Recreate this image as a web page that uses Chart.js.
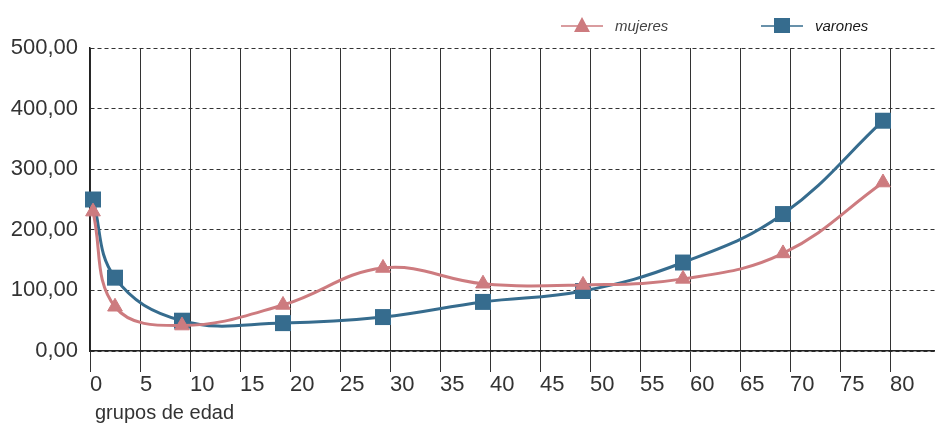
<!DOCTYPE html>
<html>
<head>
<meta charset="utf-8">
<script src="https://cdn.jsdelivr.net/npm/chart.js@4/dist/chart.umd.min.js"></script>
<style>
  html, body { margin: 0; padding: 0; background: #fff; }
  #wrap { width: 935px; height: 423px; position: relative; }
</style>
</head>
<body>
<div id="wrap"><canvas id="c" width="935" height="423"></canvas></div>
<script>
// Age (x) of each plotted group and the rate per group
const ageGroups = [0.3, 2.5, 9.2, 19.3, 29.3, 39.3, 49.3, 59.3, 69.3, 79.3];
const mujeres   = [230, 73, 42, 76, 137, 111, 109, 119, 161, 278];
const varones   = [250, 121, 50, 46, 56, 81, 99, 146, 226, 380];

const xTicks = [0, 5, 10, 15, 20, 25, 30, 35, 40, 45, 50, 55, 60, 65, 70, 75, 80];
const yTicks = [0, 100, 200, 300, 400, 500];

const PINK = '#CD7B7F';
const BLUE = '#366C8E';
const FONT = '"Liberation Sans", Arial, sans-serif';

const toPoints = ys => ys.map((y, i) => ({ x: ageGroups[i], y }));

// Legend: short line with the series marker in the middle, then the label
const lineLegend = {
  id: 'lineLegend',
  afterDraw(chart) {
    const ctx = chart.ctx;
    const items = [
      { text: 'mujeres', color: PINK, shape: 'triangle', x: 561, textColor: '#444' },
      { text: 'varones', color: BLUE, shape: 'square',   x: 761, textColor: '#1a1a1a' }
    ];
    const y = 26;
    ctx.save();
    items.forEach(it => {
      ctx.strokeStyle = it.color;
      ctx.lineWidth = 1.5;
      ctx.beginPath();
      ctx.moveTo(it.x, y);
      ctx.lineTo(it.x + 42, y);
      ctx.stroke();
      ctx.fillStyle = it.color;
      const cx = it.x + 21;
      ctx.beginPath();
      if (it.shape === 'triangle') {
        ctx.moveTo(cx, y - 9);
        ctx.lineTo(cx + 8, y + 6);
        ctx.lineTo(cx - 8, y + 6);
        ctx.closePath();
      } else {
        ctx.rect(cx - 8, y - 8, 16, 15);
      }
      ctx.fill();
      ctx.fillStyle = it.textColor;
      ctx.font = 'italic 15px ' + FONT;
      ctx.textBaseline = 'middle';
      ctx.textAlign = 'left';
      ctx.fillText(it.text, it.x + 54, y + 1);
    });
    ctx.restore();
  }
};

// Axis title drawn under the x tick labels, slightly indented from the y axis
const axisTitle = {
  id: 'axisTitle',
  afterDraw(chart) {
    const ctx = chart.ctx;
    ctx.save();
    ctx.fillStyle = '#333';
    ctx.font = '20px ' + FONT;
    ctx.textAlign = 'left';
    ctx.textBaseline = 'alphabetic';
    ctx.fillText('grupos de edad', chart.chartArea.left + 5, chart.chartArea.bottom + 68);
    ctx.restore();
  }
};

new Chart(document.getElementById('c'), {
  type: 'line',
  data: {
    datasets: [
      {
        label: 'mujeres',
        data: toPoints(mujeres),
        borderColor: PINK,
        backgroundColor: PINK,
        borderWidth: 3,
        pointStyle: 'triangle',
        pointRadius: 8.5,
        pointHoverRadius: 8.5,
        pointBorderWidth: 1,
        pointBorderColor: PINK,
        pointBackgroundColor: PINK,
        tension: 0.4,
        clip: false
      },
      {
        label: 'varones',
        data: toPoints(varones),
        borderColor: BLUE,
        backgroundColor: BLUE,
        borderWidth: 3,
        pointStyle: 'rect',
        pointRadius: 11.3,
        pointHoverRadius: 11.3,
        pointBorderWidth: 0,
        pointBackgroundColor: BLUE,
        tension: 0.4,
        clip: false
      }
    ]
  },
  options: {
    responsive: false,
    animation: false,
    devicePixelRatio: 1,
    layout: { autoPadding: false, padding: { top: 48, right: 0, left: 0, bottom: 0 } },
    plugins: {
      legend: { display: false },
      tooltip: { enabled: false }
    },
    scales: {
      x: {
        type: 'linear',
        min: 0,
        max: 84.5,
        afterBuildTicks: s => { s.ticks = xTicks.map(v => ({ value: v })); },
        afterFit: s => { s.height = 72; s.paddingLeft = 0; s.paddingRight = 0; },
        grid: { color: '#333', lineWidth: 1, drawTicks: true, tickLength: 21, tickColor: '#333', tickWidth: 1 },
        border: { display: true, color: '#222', width: 1.5 },
        ticks: {
          align: 'start',
          padding: 0,
          color: '#333',
          font: { family: FONT, size: 22 },
          callback: v => String(v)
        }
      },
      y: {
        min: 0,
        max: 500,
        afterBuildTicks: s => { s.ticks = yTicks.map(v => ({ value: v })); },
        afterFit: s => { s.width = 90; s.paddingTop = 0; s.paddingBottom = 0; },
        grid: { color: '#333', lineWidth: 1, drawTicks: false },
        border: { display: true, color: '#222', width: 1.5, dash: [4, 3] },
        ticks: {
          padding: 12,
          color: '#333',
          font: { family: FONT, size: 22 },
          callback: v => v.toFixed(2).replace('.', ',')
        }
      }
    }
  },
  plugins: [lineLegend, axisTitle]
});
</script>
</body>
</html>
